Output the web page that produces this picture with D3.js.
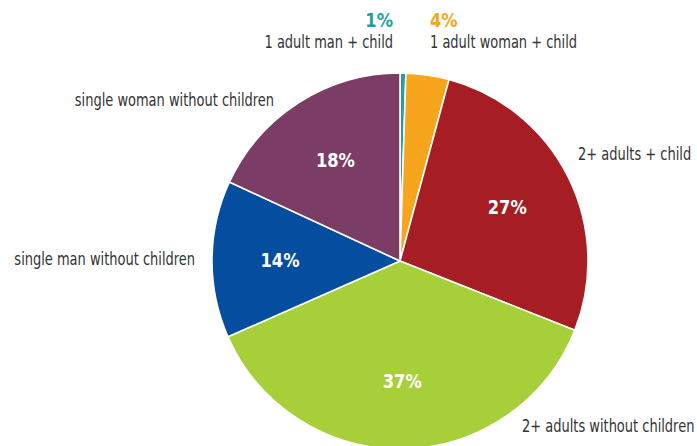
<!DOCTYPE html>
<html>
<head>
<meta charset="utf-8">
<script src="https://cdn.jsdelivr.net/npm/d3@7"></script>
<style>
  html, body { margin: 0; padding: 0; background: #fff; }
  svg { display: block; }
  .cat { font-family: "DejaVu Sans Condensed", "Liberation Sans Narrow", sans-serif; font-size: 17px; fill: #333; }
  .pct { font-family: "DejaVu Sans Condensed", "Liberation Sans Narrow", sans-serif; font-size: 19.5px; font-weight: bold; }
</style>
</head>
<body>
<svg id="chart" width="697" height="446"></svg>
<script>
// Household types, clockwise from 12 o'clock
const categories = [
  "1 adult man + child",
  "1 adult woman + child",
  "2+ adults + child",
  "2+ adults without children",
  "single man without children",
  "single woman without children"
];
// Share of households (%)
const shares = [0.5, 3.7, 26.8, 37.4, 13.5, 18.1];
const colors = ["#1fa09e", "#f6a51d", "#a61d23", "#a7cf3a", "#054d9f", "#7b3c66"];

const W = 697, H = 446;
const cx = 400, cy = 261, R = 188;
const narrow = 0.85; // horizontal squeeze for a narrow typeface look

const svg = d3.select("#chart");
const g = svg.append("g").attr("transform", `translate(${cx},${cy})`);

const data = categories.map((c, i) => ({ cat: c, value: shares[i], color: colors[i] }));

const pie = d3.pie().value(d => d.value).sort(null);
const arcs = pie(data);
const arc = d3.arc().innerRadius(0).outerRadius(R);
const labelArc = d3.arc().innerRadius(120).outerRadius(120);
const fmt = v => Math.round(v) + "%";

g.selectAll("path.slice")
  .data(arcs)
  .join("path")
  .attr("class", "slice")
  .attr("d", arc)
  .attr("fill", d => d.data.color)
  .attr("stroke", "#fff")
  .attr("stroke-width", 1.6)
  .attr("stroke-linejoin", "round");

// Percentages inside the larger slices
g.selectAll("text.pct-in")
  .data(arcs.filter(d => d.data.value >= 10))
  .join("text")
  .attr("class", "pct pct-in")
  .attr("fill", "#fff")
  .attr("text-anchor", "middle")
  .attr("dy", "0.35em")
  .attr("transform", d => {
    const [x, y] = labelArc.centroid(d);
    return `translate(${x},${y}) scale(0.93,1)`;
  })
  .text(d => fmt(d.data.value));

// Category names placed around the pie (offsets from the centre)
const outer = {
  "1 adult man + child":           { x: -7,   y: -213, anchor: "end" },
  "1 adult woman + child":         { x: 30,   y: -213, anchor: "start" },
  "2+ adults + child":             { x: 178,  y: -101, anchor: "start" },
  "2+ adults without children":    { x: 122,  y: 171,  anchor: "start" },
  "single man without children":   { x: -205, y: 4,    anchor: "end" },
  "single woman without children": { x: -126, y: -155, anchor: "end" }
};

g.selectAll("text.cat")
  .data(arcs)
  .join("text")
  .attr("class", "cat")
  .attr("transform", d => `translate(${outer[d.data.cat].x},${outer[d.data.cat].y}) scale(${narrow},1)`)
  .attr("text-anchor", d => outer[d.data.cat].anchor)
  .text(d => d.data.cat);

// Small slices carry their percentage above the name, in the slice colour
const small = arcs.filter(d => d.data.value < 10);
g.selectAll("text.pct-out")
  .data(small)
  .join("text")
  .attr("class", "pct pct-out")
  .attr("fill", d => d.data.color)
  .attr("text-anchor", d => d.data.cat === "1 adult man + child" ? "end" : "start")
  .attr("transform", d => `translate(${d.data.cat === "1 adult man + child" ? -7 : 30},-234) scale(0.93,1)`)
  .text(d => fmt(d.data.value));
</script>
</body>
</html>
